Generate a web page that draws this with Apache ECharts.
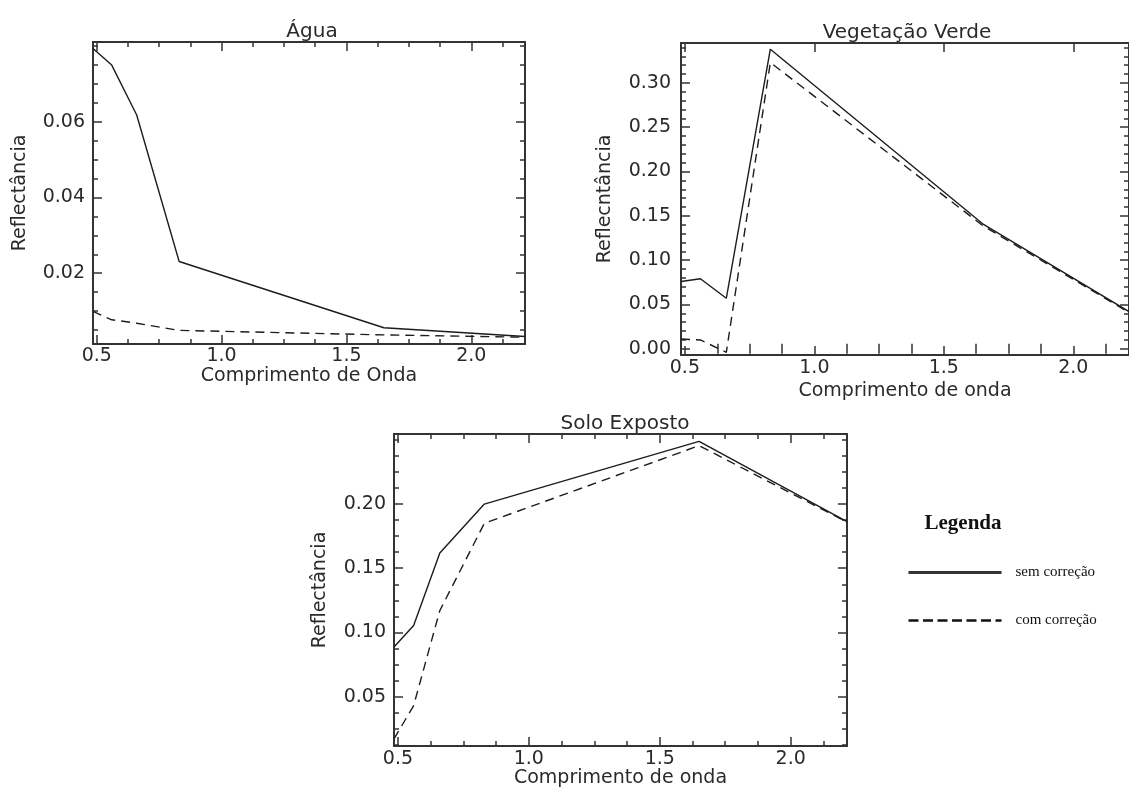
<!DOCTYPE html>
<html>
<head>
<meta charset="utf-8">
<script src="https://cdn.jsdelivr.net/npm/echarts@6/dist/echarts.min.js"></script>
<style>
html,body{margin:0;padding:0;background:#fff;}
#chart{width:1129px;height:789px;}
</style>
</head>
<body>
<div id="chart"></div>
<script>
// ---- data ----
const wavelengths = [0.485, 0.56, 0.66, 0.83, 1.65, 2.215];
const aguaSem = [0.0794, 0.0750, 0.0618, 0.0231, 0.0056, 0.0033];
const aguaCom = [0.0099, 0.0077, 0.0068, 0.0049, 0.0037, 0.0031];
const vegSem = [0.076, 0.079, 0.057, 0.338, 0.141, 0.042];
const vegCom = [0.011, 0.010, -0.004, 0.323, 0.139, 0.041];
const soloSem = [0.0886, 0.1053, 0.1619, 0.200, 0.2489, 0.1864];
const soloCom = [0.017, 0.043, 0.117, 0.185, 0.2455, 0.1860];

const xTicks = [0.5, 1.0, 1.5, 2.0];
const aguaYTicks = [0.02, 0.04, 0.06];
const vegYTicks = [0.00, 0.05, 0.10, 0.15, 0.20, 0.25, 0.30];
const soloYTicks = [0.05, 0.10, 0.15, 0.20];

const seriesNames = ['sem correção', 'com correção'];
const panelTitles = ['Água', 'Vegetação Verde', 'Solo Exposto'];
const yNames = ['Reflectância', 'Reflecntância', 'Reflectância'];
const xNames = ['Comprimento de Onda', 'Comprimento de onda', 'Comprimento de onda'];

// ---- layout ----
const FONT = 'DejaVu Sans';
const TXT = '#2a2a2a';
const AX = '#333';
const LINE = '#1c1c1c';
const grids = [
  {left: 93, top: 42, width: 432, height: 302},
  {left: 681, top: 43, width: 453, height: 312},
  {left: 394, top: 434, width: 453, height: 314}
];
const panels = [
  {ymin: 0.0013, ymax: 0.0811, yTicks: aguaYTicks, yMinorStep: 0.005, sem: aguaSem, com: aguaCom,
   xLabMargin: 3, xNameGap: 20, yLabMargin: 8, yNameGap: 63, titleX: 307, titleTop: 17},
  {ymin: -0.007, ymax: 0.345, yTicks: vegYTicks, yMinorStep: 0.01, sem: vegSem, com: vegCom,
   xLabMargin: 4, xNameGap: 27, yLabMargin: 10, yNameGap: 66, titleX: 902, titleTop: 18},
  {ymin: 0.0114, ymax: 0.2546, yTicks: soloYTicks, yMinorStep: 0.0125, sem: soloSem, com: soloCom,
   xLabMargin: 3, xNameGap: 20, yLabMargin: 8, yNameGap: 64, titleX: 620, titleTop: 409}
];
const XMIN = 0.485, XMAX = 2.215;

function steps(a, b, step, skip) {
  const out = [];
  for (let i = Math.ceil((a - 1e-9) / step); i * step <= b + 1e-9; i++) {
    const v = +(i * step).toFixed(6);
    if (v < a || v > b) continue;
    if (skip && skip.some(s => Math.abs(s - v) < 1e-6)) continue;
    out.push(v);
  }
  return out;
}

const xAxes = [], yAxes = [], series = [], titles = [];
panels.forEach((p, g) => {
  const xMinor = steps(XMIN, XMAX, 0.125, xTicks);
  const yMinor = steps(p.ymin, p.ymax, p.yMinorStep, p.yTicks);
  const line = {show: true, onZero: false, lineStyle: {color: AX, width: 2}};
  const lab = {color: TXT, fontFamily: FONT, fontSize: 19};
  ['bottom', 'top'].forEach((pos, k) => {
    xAxes.push({
      type: 'value', gridIndex: g, min: XMIN, max: XMAX, position: pos, offset: 0,
      axisLine: line, splitLine: {show: false},
      axisTick: {show: true, inside: true, length: 9, customValues: xTicks, lineStyle: {color: AX, width: 1.5}},
      axisLabel: k === 0 ? Object.assign({show: true, customValues: xTicks, margin: p.xLabMargin,
        formatter: v => v.toFixed(1)}, lab) : {show: false},
      name: k === 0 ? xNames[g] : '', nameLocation: 'middle', nameGap: p.xNameGap,
      nameTextStyle: lab
    });
    xAxes.push({
      type: 'value', gridIndex: g, min: XMIN, max: XMAX, position: pos, offset: 0,
      axisLine: {show: false}, splitLine: {show: false},
      axisTick: {show: true, inside: true, length: 5, customValues: xMinor, lineStyle: {color: AX, width: 1.5}},
      axisLabel: {show: false}
    });
  });
  ['left', 'right'].forEach((pos, k) => {
    yAxes.push({
      type: 'value', gridIndex: g, min: p.ymin, max: p.ymax, position: pos, offset: 0,
      axisLine: line, splitLine: {show: false},
      axisTick: {show: true, inside: true, length: 9, customValues: p.yTicks, lineStyle: {color: AX, width: 1.5}},
      axisLabel: k === 0 ? Object.assign({show: true, customValues: p.yTicks, margin: p.yLabMargin,
        formatter: v => v.toFixed(2)}, lab) : {show: false},
      name: k === 0 ? yNames[g] : '', nameLocation: 'middle', nameGap: p.yNameGap,
      nameRotate: 90, nameTextStyle: lab
    });
    yAxes.push({
      type: 'value', gridIndex: g, min: p.ymin, max: p.ymax, position: pos, offset: 0,
      axisLine: {show: false}, splitLine: {show: false},
      axisTick: {show: true, inside: true, length: 5, customValues: yMinor, lineStyle: {color: AX, width: 1.5}},
      axisLabel: {show: false}
    });
  });
  [p.sem, p.com].forEach((vals, s) => {
    series.push({
      type: 'line', name: seriesNames[s], xAxisIndex: 4 * g, yAxisIndex: 4 * g,
      data: wavelengths.map((w, i) => [w, vals[i]]),
      symbol: 'none', silent: true, animation: false, color: LINE,
      itemStyle: {color: LINE},
      lineStyle: {color: LINE, width: 1.4, type: s === 0 ? 'solid' : [9, 6]}
    });
  });
  titles.push({
    text: panelTitles[g], left: p.titleX, top: p.titleTop, textAlign: 'center',
    textStyle: {fontFamily: FONT, fontSize: 20, fontWeight: 'normal', color: TXT}
  });
});
titles.push({
  text: 'Legenda', left: 958, top: 508, textAlign: 'center',
  textStyle: {fontFamily: 'Liberation Serif', fontSize: 21, fontWeight: 'bold', color: '#111'}
});

const chart = echarts.init(document.getElementById('chart'), null, {renderer: 'canvas'});
chart.setOption({
  backgroundColor: '#fff',
  animation: false,
  title: titles,
  grid: grids,
  xAxis: xAxes,
  yAxis: yAxes,
  legend: {
    orient: 'vertical', left: 907, top: 565, padding: 0,
    itemWidth: 93, itemHeight: 14, itemGap: 33, selectedMode: false,
    textStyle: {fontFamily: 'Liberation Serif', fontSize: 15, color: '#111', padding: [4, 0, 0, 9]},
    data: [
      {name: seriesNames[0], itemStyle: {opacity: 0}, lineStyle: {color: '#333', width: 3, type: 'solid'}},
      {name: seriesNames[1], itemStyle: {opacity: 0}, lineStyle: {color: '#111', width: 2.5, type: [10, 4.5]}}
    ]
  },
  series: series
});
</script>
</body>
</html>
